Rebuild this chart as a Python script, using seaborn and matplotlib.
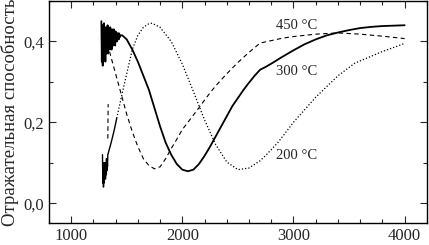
import numpy as np
import pandas as pd
import matplotlib
matplotlib.use('Agg')
import matplotlib.pyplot as plt
from matplotlib.ticker import MultipleLocator, FuncFormatter
import seaborn as sns

# 300 °C (solid): noisy start, then smooth part
x300 = [1272, 1276, 1280, 1284, 1288, 1292, 1296, 1300, 1304, 1308, 1312, 1316,
        1320, 1324, 1328, 1332, 1336, 1340, 1344, 1348, 1352, 1356, 1360, 1364,
        1368, 1372, 1376, 1380, 1384, 1388, 1392, 1396, 1400, 1404, 1408, 1412,
        1416, 1420, 1424, 1428, 1432, 1436, 1440,
        1460, 1500, 1550, 1600, 1650, 1700, 1750, 1800, 1850, 1900, 1950, 2000,
        2050, 2100, 2150, 2200, 2250, 2300, 2350, 2400, 2450, 2500, 2550, 2600,
        2650, 2700, 2750, 2800, 2900, 3000, 3100, 3200, 3300, 3400, 3500, 3600,
        3700, 3800, 3900, 4000]
y300 = [0.45, 0.35, 0.44, 0.34, 0.43, 0.36, 0.445, 0.37, 0.42, 0.35, 0.435, 0.37,
        0.42, 0.38, 0.44, 0.37, 0.43, 0.39, 0.42, 0.38, 0.435, 0.39, 0.42, 0.38,
        0.43, 0.40, 0.425, 0.39, 0.43, 0.40, 0.42, 0.39, 0.425, 0.40, 0.42, 0.40,
        0.42, 0.41, 0.42, 0.405, 0.42, 0.41, 0.415,
        0.415, 0.405, 0.38, 0.35, 0.315, 0.28, 0.235, 0.19, 0.15, 0.12, 0.097, 0.083,
        0.079, 0.083, 0.097, 0.117, 0.14, 0.165, 0.19, 0.215, 0.24, 0.26, 0.28, 0.298,
        0.315, 0.33, 0.337, 0.345, 0.362, 0.378, 0.393, 0.405, 0.415, 0.422, 0.428, 0.433,
        0.436, 0.438, 0.439, 0.44]

# 450 °C (dashed): short jump at the start, then the main curve
x450_start = [1330, 1333]
y450_start = [0.16, 0.245]
x450 = [1345, 1400, 1450, 1500, 1550, 1600, 1650, 1700, 1750,
        1800, 1850, 1900, 1950, 2000, 2050, 2100, 2150, 2200, 2250, 2300, 2400,
        2500, 2600, 2700, 2800, 2900, 3000, 3200, 3400, 3600, 3800, 4000]
y450 = [0.375, 0.32, 0.27, 0.22, 0.177, 0.14, 0.11, 0.093, 0.085,
        0.09, 0.11, 0.135, 0.158, 0.182, 0.20, 0.218, 0.236, 0.255, 0.273, 0.29, 0.32,
        0.348, 0.373, 0.396, 0.402, 0.408, 0.412, 0.418, 0.421, 0.418, 0.413, 0.407]

# 200 °C (dotted): noisy start drawn solid, then the main curve
x200_start = [1282, 1285, 1288, 1291, 1294, 1297, 1300, 1303, 1306, 1309, 1312, 1315,
              1318, 1321, 1324, 1327, 1330, 1340, 1360, 1387, 1410]
y200_start = [0.12, 0.05, 0.10, 0.04, 0.09, 0.05, 0.10, 0.06, 0.09, 0.06, 0.10, 0.07,
              0.11, 0.08, 0.11, 0.09, 0.12, 0.13, 0.15, 0.18, 0.21]
x200 = [1410, 1450, 1500, 1550,
        1600, 1650, 1700, 1720, 1750, 1800, 1900, 2000, 2100, 2200, 2300, 2400,
        2500, 2600, 2700, 2750, 2860, 3000, 3200, 3400, 3550, 3800, 4000]
y200 = [0.21, 0.26, 0.32, 0.38,
        0.415, 0.435, 0.444, 0.445, 0.442, 0.435, 0.40, 0.344, 0.276, 0.206, 0.145, 0.102,
        0.083, 0.087, 0.105, 0.118, 0.15, 0.20, 0.262, 0.315, 0.346, 0.375, 0.395]

labels = ['450 °C', '300 °C', '200 °C']
label_x = [2840, 2840, 2840]
label_y = [0.44, 0.326, 0.118]

sns.set_style('ticks')
plt.rcParams['font.family'] = ['Liberation Serif', 'DejaVu Serif']

fig = plt.figure(figsize=(4.29, 2.45), dpi=100)
ax = fig.add_axes([0.114, 0.088, 0.881, 0.908])

sns.lineplot(x=x300, y=y300, ax=ax, color='black', linewidth=1.3,
             estimator=None, sort=False)
for xs, ys in [(x450_start, y450_start), (x450, y450)]:
    sns.lineplot(x=xs, y=ys, ax=ax, color='black', linewidth=0.8,
                 estimator=None, sort=False)
    ax.lines[-1].set_dashes([4, 3])
sns.lineplot(x=x200_start, y=y200_start, ax=ax, color='black', linewidth=1.0,
             estimator=None, sort=False)
sns.lineplot(x=x200, y=y200, ax=ax, color='black', linewidth=0.9,
             estimator=None, sort=False)
ax.lines[-1].set_dashes([1, 1.6])

for t, tx, ty in zip(labels, label_x, label_y):
    ax.text(tx, ty, t, fontsize=10.5, va='center', ha='left')

ax.set_xlim(800, 4200)
ax.set_ylim(-0.05, 0.5)
ax.xaxis.set_major_locator(MultipleLocator(1000))
ax.xaxis.set_minor_locator(MultipleLocator(200))
ax.yaxis.set_major_locator(MultipleLocator(0.2))
ax.yaxis.set_minor_locator(MultipleLocator(0.1))
ax.yaxis.set_major_formatter(FuncFormatter(lambda v, p: f'{v:.1f}'.replace('.', ',')))
ax.tick_params(which='both', direction='in', top=True, right=True,
               labelsize=12, width=0.8)
ax.tick_params(which='major', length=5)
ax.tick_params(which='minor', length=3)
for s in ax.spines.values():
    s.set_linewidth(1.0)
    s.set_color('black')

ax.set_xlabel('')
ax.set_ylabel('Отражательная способность', fontsize=13.5, labelpad=3)

fig.savefig('out.png', dpi=100)
